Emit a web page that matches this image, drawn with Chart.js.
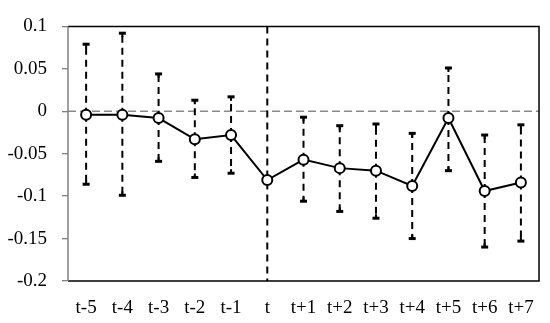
<!DOCTYPE html>
<html><head><meta charset="utf-8">
<script src="https://cdn.jsdelivr.net/npm/chart.js@4/dist/chart.umd.min.js"></script>
<style>html,body{margin:0;padding:0;background:#fff}#wrap{width:550px;height:323px;position:relative}</style>
</head><body><div id="wrap"><canvas id="c"></canvas></div>
<script>
const categories = ['t-5','t-4','t-3','t-2','t-1','t','t+1','t+2','t+3','t+4','t+5','t+6','t+7'];
const meanValues = [-0.004,-0.004,-0.008,-0.033,-0.028,-0.081,-0.057,-0.067,-0.070,-0.088,-0.008,-0.094,-0.084];
const upperValues = [0.079,0.092,0.044,0.013,0.017,null,-0.007,-0.017,-0.015,-0.026,0.051,-0.028,-0.016];
const lowerValues = [-0.086,-0.099,-0.059,-0.078,-0.073,null,-0.106,-0.118,-0.126,-0.150,-0.070,-0.160,-0.153];
const yTicks = [0.1,0.05,0,-0.05,-0.1,-0.15,-0.2];
const eventCategory = 't';

const decor = {
  id:'decor',
  beforeDatasetsDraw(chart){
    const {ctx, chartArea:a, scales:{x,y}} = chart;
    ctx.save();
    // zero line
    const y0 = y.getPixelForValue(0);
    ctx.strokeStyle = '#8a8a8a'; ctx.lineWidth = 1.3; ctx.setLineDash([8,4]);
    ctx.beginPath(); ctx.moveTo(a.left, y0); ctx.lineTo(a.right, y0); ctx.stroke();
    // frame
    ctx.setLineDash([]);
    ctx.strokeStyle = '#000'; ctx.lineWidth = 1.5;
    ctx.beginPath(); ctx.moveTo(a.left, a.top); ctx.lineTo(a.right, a.top); ctx.lineTo(a.right, a.bottom); ctx.lineTo(a.left, a.bottom); ctx.stroke();
    ctx.strokeStyle = '#808080';
    ctx.beginPath(); ctx.moveTo(a.left, a.top); ctx.lineTo(a.left, a.bottom); ctx.stroke();
    // event line
    const xe = x.getPixelForValue(categories.indexOf(eventCategory));
    ctx.strokeStyle = '#000'; ctx.lineWidth = 2; ctx.setLineDash([7,5]);
    ctx.beginPath(); ctx.moveTo(xe, a.top); ctx.lineTo(xe, a.bottom); ctx.stroke();
    // error bars
    for (let i=0;i<categories.length;i++){
      if (upperValues[i]==null) continue;
      const xp = x.getPixelForValue(i);
      const yu = y.getPixelForValue(upperValues[i]);
      const yl = y.getPixelForValue(lowerValues[i]);
      const ym = y.getPixelForValue(meanValues[i]);
      ctx.setLineDash([7,5]); ctx.lineWidth = 2; ctx.strokeStyle = '#000';
      ctx.beginPath(); ctx.moveTo(xp, ym); ctx.lineTo(xp, yu); ctx.stroke();
      ctx.beginPath(); ctx.moveTo(xp, ym); ctx.lineTo(xp, yl); ctx.stroke();
      ctx.setLineDash([]); ctx.lineWidth = 3;
      ctx.beginPath(); ctx.moveTo(xp-3.5, yu); ctx.lineTo(xp+3.5, yu); ctx.stroke();
      ctx.beginPath(); ctx.moveTo(xp-3.5, yl); ctx.lineTo(xp+3.5, yl); ctx.stroke();
      ctx.lineWidth = 2;
      ctx.beginPath(); ctx.moveTo(xp, yu); ctx.lineTo(xp, yu+4); ctx.stroke();
      ctx.beginPath(); ctx.moveTo(xp, yl); ctx.lineTo(xp, yl-4); ctx.stroke();
    }
    ctx.restore();
  }
};

new Chart(document.getElementById('c'), {
  type:'line',
  data:{labels:categories, datasets:[{
    data:meanValues, borderColor:'#000', borderWidth:2, tension:0,
    pointRadius:5, pointBorderWidth:2, pointBackgroundColor:'#fff', pointBorderColor:'#000'
  }]},
  options:{
    responsive:true, maintainAspectRatio:false, animation:false,
    layout:{padding:{left:0,right:9,top:23,bottom:0}},
    plugins:{legend:{display:false}, tooltip:{enabled:false}},
    scales:{
      x:{offset:true,
        grid:{display:false, drawTicks:false},
        border:{display:false},
        ticks:{color:'#000', font:{family:'Liberation Serif', size:19}, padding:16, maxRotation:0, autoSkip:false},
        afterFit(s){ s.height = 42; }
      },
      y:{min:-0.2, max:0.1,
        grid:{drawOnChartArea:false, drawTicks:true, tickLength:6, color:'#808080', lineWidth:1.3},
        border:{display:false},
        afterBuildTicks(s){ s.ticks = yTicks.map(v=>({value:v})); },
        ticks:{color:'#000', font:{family:'Liberation Serif', size:19}, padding:15,
          callback(v){ const r = Math.round(v*100)/100; return r===0 ? '0' : String(r); }},
        afterFit(s){ s.width = 68; }
      }
    }
  },
  plugins:[decor]
});
</script></body></html>
